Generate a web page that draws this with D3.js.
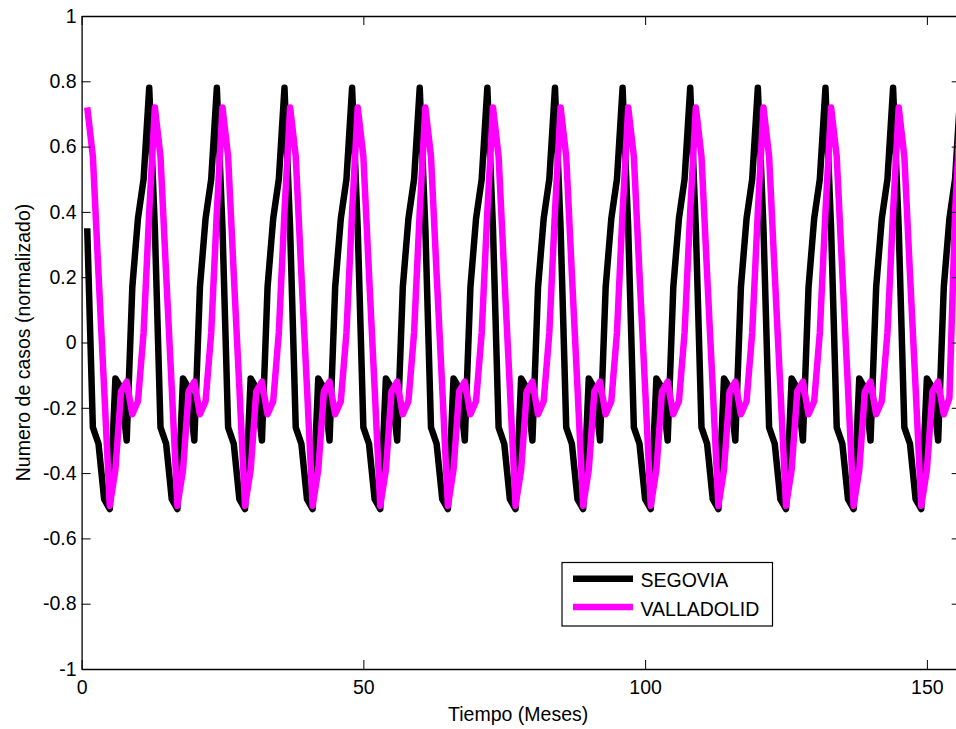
<!DOCTYPE html>
<html>
<head>
<meta charset="utf-8">
<script src="https://cdn.jsdelivr.net/npm/d3@7"></script>
<style>
  html, body { margin: 0; padding: 0; background: #fff; }
  svg { display: block; }
  text { font-family: Arial, "Liberation Sans", sans-serif; fill: #000; }
</style>
</head>
<body>
<svg id="chart" width="956" height="729"></svg>
<script>
// ---- data (months 1..156) ----
const months = d3.range(1, 157);

const segovia = [
  0.35, -0.26, -0.31, -0.48, -0.51, -0.11, -0.14, -0.30, 0.17, 0.38, 0.50, 0.78,
  0.35, -0.26, -0.31, -0.48, -0.51, -0.11, -0.14, -0.30, 0.17, 0.38, 0.50, 0.78,
  0.35, -0.26, -0.31, -0.48, -0.51, -0.11, -0.14, -0.30, 0.17, 0.38, 0.50, 0.78,
  0.35, -0.26, -0.31, -0.48, -0.51, -0.11, -0.14, -0.30, 0.17, 0.38, 0.50, 0.78,
  0.35, -0.26, -0.31, -0.48, -0.51, -0.11, -0.14, -0.30, 0.17, 0.38, 0.50, 0.78,
  0.35, -0.26, -0.31, -0.48, -0.51, -0.11, -0.14, -0.30, 0.17, 0.38, 0.50, 0.78,
  0.35, -0.26, -0.31, -0.48, -0.51, -0.11, -0.14, -0.30, 0.17, 0.38, 0.50, 0.78,
  0.35, -0.26, -0.31, -0.48, -0.51, -0.11, -0.14, -0.30, 0.17, 0.38, 0.50, 0.78,
  0.35, -0.26, -0.31, -0.48, -0.51, -0.11, -0.14, -0.30, 0.17, 0.38, 0.50, 0.78,
  0.35, -0.26, -0.31, -0.48, -0.51, -0.11, -0.14, -0.30, 0.17, 0.38, 0.50, 0.78,
  0.35, -0.26, -0.31, -0.48, -0.51, -0.11, -0.14, -0.30, 0.17, 0.38, 0.50, 0.78,
  0.35, -0.26, -0.31, -0.48, -0.51, -0.11, -0.14, -0.30, 0.17, 0.38, 0.50, 0.78,
  0.35, -0.26, -0.31, -0.48, -0.51, -0.11, -0.14, -0.30, 0.17, 0.38, 0.50, 0.78
];

const valladolid = [
  0.72, 0.57, 0.21, -0.14, -0.50, -0.39, -0.15, -0.12, -0.22, -0.18, 0.03, 0.40,
  0.72, 0.57, 0.21, -0.14, -0.50, -0.39, -0.15, -0.12, -0.22, -0.18, 0.03, 0.40,
  0.72, 0.57, 0.21, -0.14, -0.50, -0.39, -0.15, -0.12, -0.22, -0.18, 0.03, 0.40,
  0.72, 0.57, 0.21, -0.14, -0.50, -0.39, -0.15, -0.12, -0.22, -0.18, 0.03, 0.40,
  0.72, 0.57, 0.21, -0.14, -0.50, -0.39, -0.15, -0.12, -0.22, -0.18, 0.03, 0.40,
  0.72, 0.57, 0.21, -0.14, -0.50, -0.39, -0.15, -0.12, -0.22, -0.18, 0.03, 0.40,
  0.72, 0.57, 0.21, -0.14, -0.50, -0.39, -0.15, -0.12, -0.22, -0.18, 0.03, 0.40,
  0.72, 0.57, 0.21, -0.14, -0.50, -0.39, -0.15, -0.12, -0.22, -0.18, 0.03, 0.40,
  0.72, 0.57, 0.21, -0.14, -0.50, -0.39, -0.15, -0.12, -0.22, -0.18, 0.03, 0.40,
  0.72, 0.57, 0.21, -0.14, -0.50, -0.39, -0.15, -0.12, -0.22, -0.18, 0.03, 0.40,
  0.72, 0.57, 0.21, -0.14, -0.50, -0.39, -0.15, -0.12, -0.22, -0.18, 0.03, 0.40,
  0.72, 0.57, 0.21, -0.14, -0.50, -0.39, -0.15, -0.12, -0.22, -0.18, 0.03, 0.40,
  0.72, 0.57, 0.21, -0.14, -0.50, -0.39, -0.15, -0.12, -0.22, -0.17, 0.40, 0.72
];

const seriesNames = ["SEGOVIA", "VALLADOLID"];
const seriesColors = ["#000000", "#ff00ff"];
const xTicks = [0, 50, 100, 150];
const yTicks = [-1, -0.8, -0.6, -0.4, -0.2, 0, 0.2, 0.4, 0.6, 0.8, 1];
const xLabel = "Tiempo (Meses)";
const yLabel = "Numero de casos (normalizado)";

// ---- layout ----
const svg = d3.select("#chart");
const pLeft = 81.6, pRight = 960.7, pTop = 16, pBottom = 669;
const fontSize = 19.5;

const x = d3.scaleLinear().domain([0, 156]).range([pLeft, pRight]);
const y = d3.scaleLinear().domain([-1, 1]).range([pBottom, pTop]);

svg.append("defs").append("clipPath").attr("id", "plotclip")
  .append("rect").attr("x", pLeft).attr("y", pTop)
  .attr("width", pRight - pLeft).attr("height", pBottom - pTop);

// ---- lines ----
const line = d3.line().x((d, i) => x(months[i])).y(d => y(d));
const allSeries = [segovia, valladolid];
const g = svg.append("g").attr("clip-path", "url(#plotclip)");
allSeries.forEach((s, k) => {
  g.append("path").datum(s)
    .attr("d", line)
    .attr("fill", "none")
    .attr("stroke", seriesColors[k])
    .attr("stroke-width", 6.5)
    .attr("stroke-linejoin", "round")
    .attr("stroke-linecap", "butt");
});

// ---- axes ----
const fmt = d => String(+d.toFixed(1));
const xAxis = d3.axisBottom(x).tickValues(xTicks).tickFormat(d3.format("d"))
  .tickSizeInner(-9).tickSizeOuter(0).tickPadding(11);
const yAxis = d3.axisLeft(y).tickValues(yTicks).tickFormat(fmt)
  .tickSizeInner(-9).tickSizeOuter(0).tickPadding(5);
const xTop = d3.axisTop(x).tickValues(xTicks).tickFormat("")
  .tickSizeInner(-9).tickSizeOuter(0);
const yRight = d3.axisRight(y).tickValues(yTicks).tickFormat("")
  .tickSizeInner(-9).tickSizeOuter(0);

function style(sel) {
  sel.selectAll("path.domain").attr("stroke", "#000").attr("stroke-width", 1.3);
  sel.selectAll(".tick line").attr("stroke", "#000").attr("stroke-width", 1);
  sel.selectAll(".tick text").attr("font-size", fontSize)
    .attr("font-family", "Arial, 'Liberation Sans', sans-serif").attr("fill", "#000");
}
svg.append("g").attr("transform", `translate(0,${pBottom})`).call(xAxis).call(style);
svg.append("g").attr("transform", `translate(${pLeft},0)`).call(yAxis).call(style);
svg.append("g").attr("transform", `translate(0,${pTop})`).call(xTop).call(style);
svg.append("g").attr("transform", `translate(${pRight},0)`).call(yRight).call(style);

// ---- axis labels ----
svg.append("text")
  .attr("x", (pLeft + pRight) / 2 - 3).attr("y", 721)
  .attr("text-anchor", "middle").attr("font-size", fontSize)
  .text(xLabel);
svg.append("text")
  .attr("transform", `translate(30,${(pTop + pBottom) / 2}) rotate(-90)`)
  .attr("text-anchor", "middle").attr("font-size", fontSize)
  .text(yLabel);

// ---- legend ----
const lg = svg.append("g");
lg.append("rect").attr("x", 562).attr("y", 562.5).attr("width", 210.5).attr("height", 63.5)
  .attr("fill", "#fff").attr("stroke", "#000").attr("stroke-width", 1.2);
const legendY = [578.7, 607];
seriesNames.forEach((name, k) => {
  lg.append("line").attr("x1", 573).attr("x2", 633)
    .attr("y1", legendY[k]).attr("y2", legendY[k])
    .attr("stroke", seriesColors[k]).attr("stroke-width", 6.5);
  lg.append("text").attr("x", 640.5).attr("y", legendY[k] + 8.5)
    .attr("font-size", fontSize).text(name);
});
</script>
</body>
</html>
